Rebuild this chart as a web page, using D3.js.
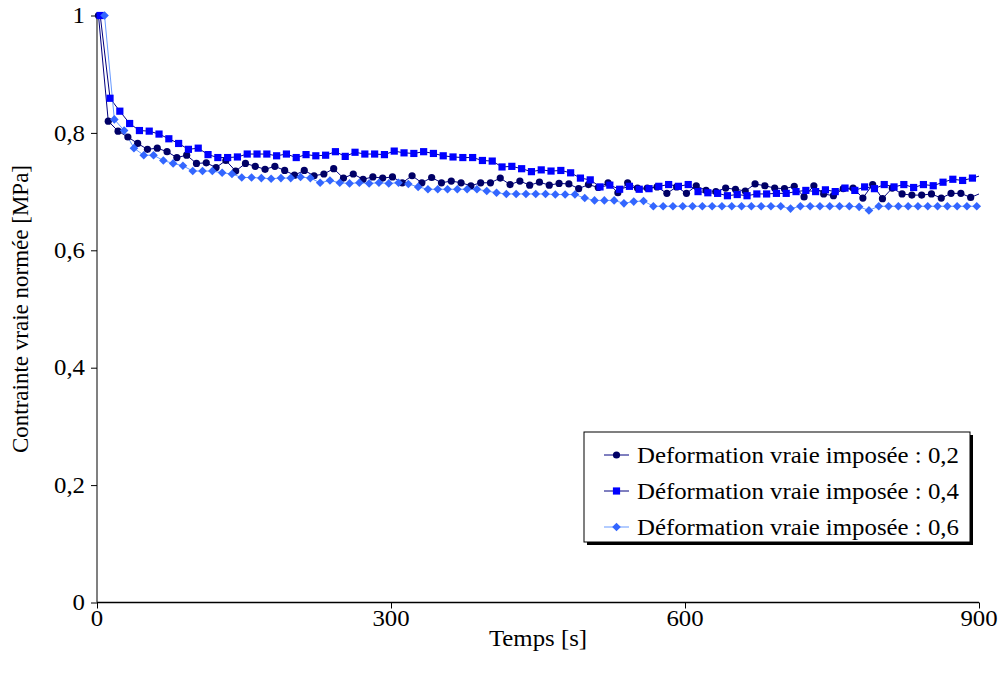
<!DOCTYPE html>
<html>
<head>
<meta charset="utf-8">
<script src="https://cdn.jsdelivr.net/npm/d3@7"></script>
<style>
  body { margin: 0; background: #fff; }
</style>
</head>
<body>
<svg width="1002" height="682"></svg>
<script>
// sampling: one reading every 10 s, each test starts at its own offset
var step = 10;
var startTimes = [1.5, 3.3, 7.7];

var seriesNames = [
    "Deformation vraie imposée : 0,2",
    "Déformation vraie imposée : 0,4",
    "Déformation vraie imposée : 0,6"
];

// normalised true stress
var stress02 = [
    1.000, 0.820, 0.803, 0.793, 0.782, 0.772, 0.774, 0.768, 0.758, 0.762,
    0.748, 0.749, 0.741, 0.753, 0.735, 0.748, 0.743, 0.738, 0.743, 0.736,
    0.728, 0.736, 0.727, 0.730, 0.739, 0.723, 0.730, 0.721, 0.725, 0.723,
    0.725, 0.715, 0.727, 0.715, 0.724, 0.715, 0.718, 0.715, 0.710, 0.715,
    0.715, 0.723, 0.712, 0.718, 0.711, 0.716, 0.711, 0.714, 0.713, 0.705,
    0.712, 0.707, 0.715, 0.698, 0.715, 0.706, 0.706, 0.708, 0.697, 0.708,
    0.697, 0.710, 0.702, 0.700, 0.706, 0.704, 0.701, 0.713, 0.710, 0.706,
    0.705, 0.709, 0.691, 0.710, 0.696, 0.693, 0.705, 0.706, 0.689, 0.712,
    0.688, 0.706, 0.696, 0.694, 0.694, 0.696, 0.689, 0.697, 0.697, 0.690,
    0.697
];
var stress04 = [
    1.000, 0.859, 0.837, 0.816, 0.804, 0.803, 0.798, 0.790, 0.782, 0.772,
    0.774, 0.763, 0.758, 0.758, 0.759, 0.764, 0.764, 0.764, 0.761, 0.764,
    0.758, 0.763, 0.761, 0.762, 0.768, 0.760, 0.767, 0.764, 0.764, 0.763,
    0.769, 0.766, 0.765, 0.768, 0.765, 0.761, 0.759, 0.758, 0.758, 0.753,
    0.752, 0.742, 0.743, 0.739, 0.734, 0.737, 0.735, 0.736, 0.732, 0.723,
    0.720, 0.708, 0.711, 0.704, 0.709, 0.704, 0.705, 0.709, 0.712, 0.709,
    0.712, 0.700, 0.698, 0.697, 0.693, 0.695, 0.693, 0.696, 0.696, 0.697,
    0.697, 0.700, 0.702, 0.700, 0.703, 0.700, 0.706, 0.702, 0.708, 0.705,
    0.712, 0.708, 0.712, 0.707, 0.712, 0.710, 0.716, 0.721, 0.719, 0.723,
    0.728
];
var stress06 = [
    1.000, 0.823, 0.804, 0.774, 0.762, 0.762, 0.753, 0.748, 0.744, 0.735,
    0.735, 0.735, 0.732, 0.730, 0.724, 0.724, 0.723, 0.722, 0.723, 0.723,
    0.725, 0.723, 0.715, 0.719, 0.715, 0.714, 0.715, 0.714, 0.715, 0.714,
    0.715, 0.713, 0.708, 0.704, 0.704, 0.704, 0.704, 0.704, 0.704, 0.701,
    0.698, 0.696, 0.696, 0.696, 0.696, 0.696, 0.695, 0.695, 0.695, 0.689,
    0.685, 0.685, 0.685, 0.680, 0.683, 0.684, 0.675, 0.675, 0.675, 0.675,
    0.675, 0.675, 0.675, 0.675, 0.675, 0.675, 0.675, 0.675, 0.675, 0.675,
    0.671, 0.675, 0.675, 0.675, 0.675, 0.675, 0.675, 0.674, 0.668, 0.675,
    0.675, 0.675, 0.675, 0.675, 0.675, 0.675, 0.675, 0.675, 0.675, 0.675,
    0.675
];

var xTicks = [0, 300, 600, 900];
var yTicks = [0, 0.2, 0.4, 0.6, 0.8, 1];

var lineColors = ["#000080", "#000080", "#6699ff"];
var markColors = ["#000066", "#0000ff", "#3366ff"];
var shapes = ["circle", "square", "diamond"];

var serif = "Liberation Serif, Times New Roman, Times, Tinos, FreeSerif, serif";

var margin = { top: 15.5, left: 97 },
    width = 882,
    height = 587;

var svg = d3.select("svg");
var g = svg.append("g")
    .attr("transform", "translate(" + margin.left + "," + margin.top + ")");

var x = d3.scaleLinear().domain([0, 900]).range([0, width]);
var y = d3.scaleLinear().domain([0, 1]).range([height, 0]);

// text in the picture is a little wider than the font
var stretch = 1.08;
function label(parent, px, py, str, anchor) {
    return parent.append("text")
        .attr("transform", "translate(" + px + "," + py + ") scale(" + stretch + ",1)")
        .attr("text-anchor", anchor || "start")
        .attr("dominant-baseline", "central")
        .style("font-family", serif)
        .style("font-size", "23px")
        .attr("fill", "#000")
        .text(str);
}

function marker(shape) {
    if (shape == "circle") return "M3.6,0A3.6,3.6 0 1,1 -3.6,0A3.6,3.6 0 1,1 3.6,0Z";
    if (shape == "square") return "M-3.6,-3.6H3.6V3.6H-3.6Z";
    return "M0,-4.3L4.3,0L0,4.3L-4.3,0Z";
}

var allSeries = [stress02, stress04, stress06].map(function (vals, i) {
    return vals.map(function (v, k) {
        return { t: startTimes[i] + step * k, v: v };
    });
});

// axes
var fmt = function (d) { return String(d).replace(".", ","); };

var yAxis = g.append("g").call(d3.axisLeft(y).tickValues(yTicks).tickSize(6).tickFormat(""));
yAxis.select(".domain").attr("stroke", "#808080").attr("stroke-width", 2).attr("d", "M0," + height + "V0");
yAxis.selectAll(".tick line").attr("stroke", "#000");
yTicks.forEach(function (d) { label(g, -12, y(d), fmt(d), "end"); });

var xAxis = g.append("g")
    .attr("transform", "translate(0," + height + ")")
    .call(d3.axisBottom(x).tickValues(xTicks).tickSize(6).tickFormat(""));
xAxis.select(".domain").attr("stroke", "#000").attr("stroke-width", 1.3).attr("d", "M0,0H" + width);
xTicks.forEach(function (d) { label(g, x(d), height + 16, fmt(d), "middle"); });

label(g, width / 2, height + 36, "Temps [s]", "middle");
g.append("text")
    .attr("transform", "translate(-77," + (height / 2) + ") rotate(-90)")
    .attr("text-anchor", "middle")
    .attr("dominant-baseline", "central")
    .style("font-family", serif)
    .style("font-size", "23px")
    .text("Contrainte vraie normée [MPa]");

// series
g.append("clipPath").attr("id", "plot")
    .append("rect").attr("width", width).attr("height", height);

var line = d3.line()
    .x(function (d) { return x(d.t); })
    .y(function (d) { return y(d.v); });

allSeries.forEach(function (data, i) {
    g.append("path")
        .datum(data)
        .attr("clip-path", "url(#plot)")
        .attr("fill", "none")
        .attr("stroke", lineColors[i])
        .attr("stroke-width", 1)
        .attr("d", line);
});
allSeries.forEach(function (data, i) {
    g.selectAll(".m" + i)
        .data(data.filter(function (d) { return d.t <= 900; }))
        .enter().append("path")
        .attr("class", "m" + i)
        .attr("transform", function (d) { return "translate(" + x(d.t) + "," + y(d.v) + ")"; })
        .attr("fill", markColors[i])
        .attr("d", marker(shapes[i]));
});

// legend
var lg = svg.append("g").attr("transform", "translate(584,432)");
lg.append("rect").attr("x", 3).attr("y", 3).attr("width", 386).attr("height", 110).attr("fill", "#000");
lg.append("rect").attr("width", 386).attr("height", 110).attr("fill", "#fff").attr("stroke", "#000").attr("stroke-width", 1);
seriesNames.forEach(function (name, i) {
    var ry = 23 + i * 36;
    lg.append("line").attr("x1", 20).attr("x2", 45).attr("y1", ry).attr("y2", ry)
        .attr("stroke", lineColors[i]).attr("stroke-width", 1);
    lg.append("path").attr("transform", "translate(32.5," + ry + ")")
        .attr("fill", markColors[i]).attr("d", marker(shapes[i]));
    label(lg, 53, ry, name);
});
</script>
</body>
</html>
